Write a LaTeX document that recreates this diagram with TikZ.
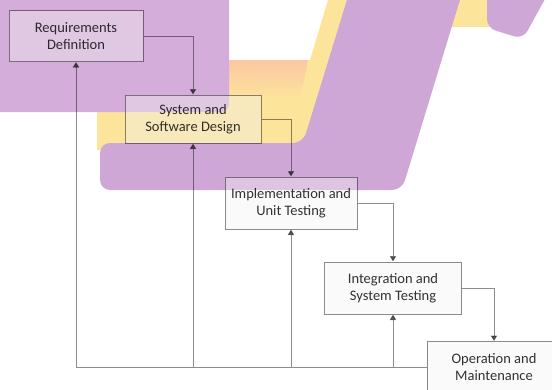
\documentclass[tikz,border=0pt]{standalone}
\usepackage{fontspec}
\setmainfont{Carlito}
\usetikzlibrary{arrows.meta}
\definecolor{pur}{HTML}{D4ADDA}
\definecolor{purd}{HTML}{CFA7D6}
\definecolor{yel}{HTML}{FDE49B}
\definecolor{ora}{HTML}{FBC6A3}
\definecolor{boxfill}{HTML}{F2F2F2}
\begin{document}
\begin{tikzpicture}[x=1pt,y=-1pt,
  stagebox/.style={draw=black, draw opacity=0.45, fill=boxfill, fill opacity=0.4,
    text=black, text opacity=0.8, align=center, minimum width=134pt,
    minimum height=51pt, inner sep=0pt, line width=1pt,
    font=\fontsize{14.5}{17.5}\selectfont},
  conn/.style={draw=black, draw opacity=0.45, fill opacity=0.65, line width=1pt,
    -{Triangle[width=6.5pt,length=5.5pt]}}]
\useasboundingbox (0,0) rectangle (552,389);
\clip (0,0) rectangle (552,389);
% background highlighter shapes
\fill[yel] (97,60) -- (310,60) -- (331,-10) -- (440,-10) -- (390,150) -- (97,150) -- cycle;
\begin{scope}
  \clip (97,60) -- (308,60) -- (300,100) -- (97,100) -- cycle;
  \shade[top color=ora, bottom color=yel] (97,58) rectangle (330,100);
\end{scope}
\fill[yel] (440,-5) rectangle (490,27);
\fill[purd, rounded corners=10pt] (100,143) -- (303,143) -- (350,-10) -- (463,-10) -- (402,190) -- (100,190) -- cycle;
\fill[pur, rounded corners=8pt] (-10,-10) rectangle (229,112);
\fill[purd, rounded corners=9pt] (487,-10) -- (487,28) -- (523,39) -- (550,-10) -- cycle;
% stages
\node[stagebox] (req) at (76,36) {Requirements\\Definition};
\node[stagebox, minimum height=48pt, minimum width=136pt] (sys) at (193,119) {System and\\Software Design};
\node[stagebox, minimum height=52pt, minimum width=132pt] (impl) at (291,203) {Implementation and\\Unit Testing};
\node[stagebox, minimum height=52pt, minimum width=137pt] (integ) at (393,288) {Integration and\\System Testing};
\node[stagebox] (op) at (494,367) {Operation and\\Maintenance};
% forward flow
\draw[conn] (req.east) -| (sys.north);
\draw[conn] (sys.east) -| (impl.north);
\draw[conn] (impl.east) -| (integ.north);
\draw[conn] (integ.east) -| (op.north);
% feedback
\draw[conn] (op.west) -| (req.south);
\draw[conn] (sys.south |- op.west) -- (sys.south);
\draw[conn] (impl.south |- op.west) -- (impl.south);
\draw[conn] (integ.south |- op.west) -- (integ.south);
\end{tikzpicture}
\end{document}
